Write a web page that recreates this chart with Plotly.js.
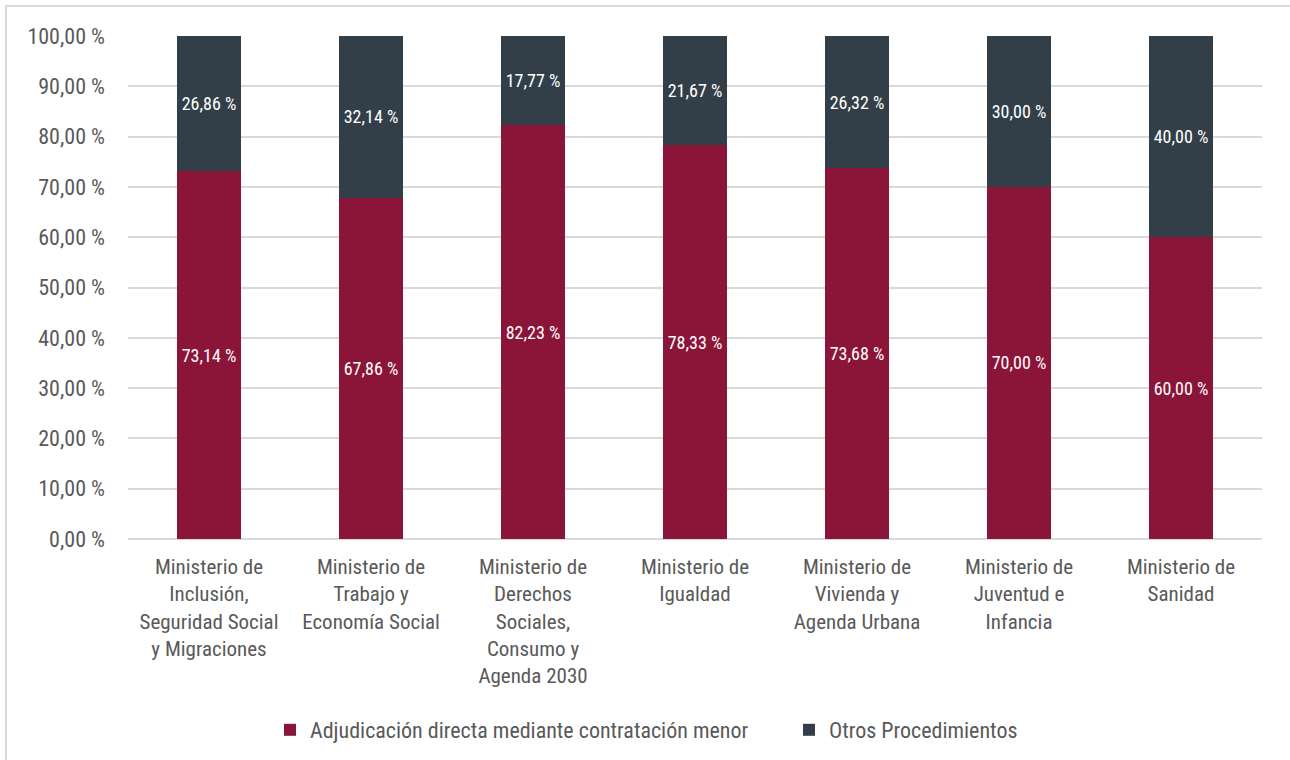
<!DOCTYPE html>
<html>
<head>
<meta charset="utf-8">
<script src="https://cdn.plot.ly/plotly-3.0.1.min.js"></script>
<style>
  html, body { margin: 0; padding: 0; background: #ffffff; overflow: hidden; }
  #wrap { position: relative; width: 1290px; height: 760px; overflow: hidden; }
  #frame { position: absolute; left: 5px; top: 5px; width: 1320px; height: 800px; border: 2px solid #d9d9d9; box-sizing: border-box; pointer-events: none; }
  #chart { position: absolute; left: 0; top: 0; width: 1290px; height: 760px; }
</style>
</head>
<body>
<div id="wrap">
  <div id="chart"></div>
  <div id="frame"></div>
</div>
<script>
const categories = [
  "Ministerio de<br>Inclusión,<br>Seguridad Social<br>y Migraciones",
  "Ministerio de<br>Trabajo y<br>Economía Social",
  "Ministerio de<br>Derechos<br>Sociales,<br>Consumo y<br>Agenda 2030",
  "Ministerio de<br>Igualdad",
  "Ministerio de<br>Vivienda y<br>Agenda Urbana",
  "Ministerio de<br>Juventud e<br>Infancia",
  "Ministerio de<br>Sanidad"
];
const adjudicacionDirecta = [73.14, 67.86, 82.23, 78.33, 73.68, 70.00, 60.00];
const otrosProcedimientos = [26.86, 32.14, 17.77, 21.67, 26.32, 30.00, 40.00];
const seriesNames = ["Adjudicación directa mediante contratación menor", "Otros Procedimientos"];
const yTickValues = [0, 10, 20, 30, 40, 50, 60, 70, 80, 90, 100];
const yTickText = yTickValues.map(v => v.toFixed(2).replace('.', ',') + ' %');

const FONT = '"Roboto Condensed", "Liberation Sans Narrow", "Arial Narrow", Arial, sans-serif';
const GREY = '#595959';

const L = 128, R = 28, T = 36, B = 221, W = 1290, H = 760;
const plotW = W - L - R, plotH = H - T - B;
const px2x = p => (p - L) / plotW;
const py2y = p => (H - B - p) / plotH;

const common = {
  type: 'bar',
  x: categories,
  width: 0.4,
  texttemplate: '%{y:.2f} %',
  textposition: 'inside',
  insidetextanchor: 'middle',
  textangle: 0,
  constraintext: 'none',
  textfont: { family: FONT, size: 18, color: '#ffffff' },
  hoverinfo: 'skip'
};

const traces = [
  Object.assign({}, common, {
    name: seriesNames[0],
    y: adjudicacionDirecta,
    legend: 'legend',
    marker: { color: '#8b1538', line: { width: 0 } }
  }),
  Object.assign({}, common, {
    name: seriesNames[1],
    y: otrosProcedimientos,
    legend: 'legend2',
    marker: { color: '#333f48', line: { width: 0 } }
  })
];

const legendFont = { family: FONT, size: 22, color: GREY };

const layout = {
  width: W,
  height: H,
  barmode: 'stack',
  separators: ', ',
  paper_bgcolor: 'rgba(0,0,0,0)',
  plot_bgcolor: '#ffffff',
  margin: { l: L, r: R, t: T, b: B, autoexpand: false },
  font: { family: FONT, size: 21, color: GREY },
  showlegend: true,
  legend: {
    orientation: 'h',
    x: px2x(270), xanchor: 'left',
    y: py2y(730), yanchor: 'middle',
    font: legendFont,
    bgcolor: 'rgba(0,0,0,0)'
  },
  legend2: {
    orientation: 'h',
    x: px2x(789), xanchor: 'left',
    y: py2y(730), yanchor: 'middle',
    font: legendFont,
    bgcolor: 'rgba(0,0,0,0)'
  },
  xaxis: {
    showgrid: false,
    zeroline: false,
    showline: false,
    ticks: '',
    ticklabelstandoff: 13,
    tickfont: { family: FONT, size: 21, color: GREY },
    fixedrange: true
  },
  yaxis: {
    range: [0, 100],
    tickvals: yTickValues,
    ticktext: yTickText,
    showgrid: true,
    gridcolor: '#d9d9d9',
    gridwidth: 2,
    zeroline: true,
    zerolinecolor: '#d9d9d9',
    zerolinewidth: 2,
    showline: false,
    ticks: '',
    ticklabelstandoff: 22,
    tickfont: { family: FONT, size: 22, color: GREY },
    fixedrange: true
  },
  bargap: 0.6
};

Plotly.newPlot('chart', traces, layout, { displayModeBar: false, staticPlot: true });
</script>
</body>
</html>
